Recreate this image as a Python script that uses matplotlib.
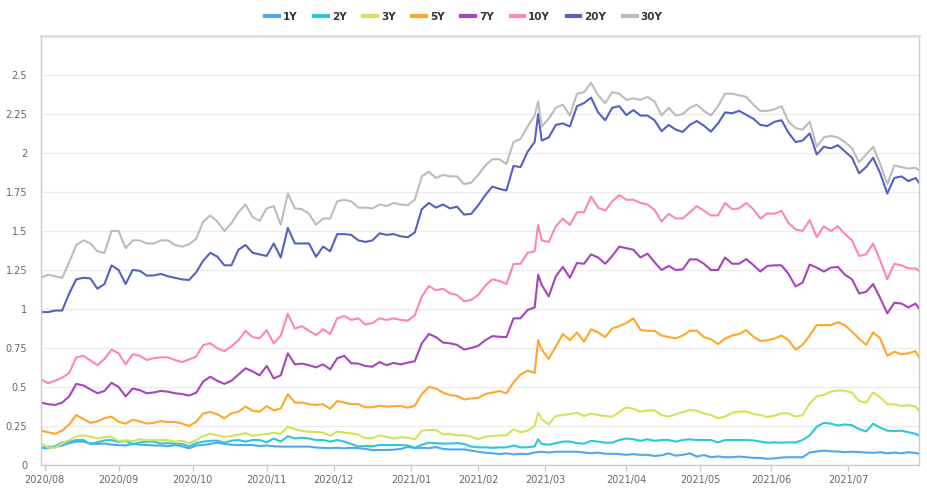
import matplotlib
matplotlib.use("Agg")
import matplotlib.pyplot as plt
import pandas as pd
import numpy as np

# ---- data -------------------------------------------------------------
holidays = ["2020-09-07", "2020-10-12", "2020-11-11", "2020-11-26", "2020-12-25",
            "2021-01-01", "2021-01-18", "2021-02-15", "2021-04-02", "2021-05-31",
            "2021-07-05"]

dates = [
    "2020-07-31", "2020-08-04", "2020-08-06", "2020-08-10", "2020-08-12", "2020-08-14", "2020-08-18", "2020-08-20", "2020-08-24", "2020-08-26",
    "2020-08-28", "2020-09-01", "2020-09-03", "2020-09-08", "2020-09-10", "2020-09-14", "2020-09-16", "2020-09-18", "2020-09-22", "2020-09-24",
    "2020-09-28", "2020-09-30", "2020-10-02", "2020-10-06", "2020-10-08", "2020-10-13", "2020-10-15", "2020-10-19", "2020-10-21", "2020-10-23",
    "2020-10-27", "2020-10-29", "2020-11-02", "2020-11-04", "2020-11-06", "2020-11-10", "2020-11-13", "2020-11-17", "2020-11-19", "2020-11-23",
    "2020-11-25", "2020-11-30", "2020-12-02", "2020-12-04", "2020-12-08", "2020-12-10", "2020-12-14", "2020-12-16", "2020-12-18", "2020-12-22",
    "2020-12-24", "2020-12-29", "2020-12-31", "2021-01-05", "2021-01-07", "2021-01-11", "2021-01-13", "2021-01-15", "2021-01-20", "2021-01-22",
    "2021-01-26", "2021-01-28", "2021-02-01", "2021-02-03", "2021-02-05", "2021-02-09", "2021-02-11", "2021-02-16", "2021-02-18", "2021-02-22",
    "2021-02-24", "2021-02-25", "2021-02-26", "2021-03-02", "2021-03-04", "2021-03-08", "2021-03-10", "2021-03-12", "2021-03-16", "2021-03-18",
    "2021-03-22", "2021-03-24", "2021-03-26", "2021-03-30", "2021-04-01", "2021-04-06", "2021-04-08", "2021-04-12", "2021-04-14", "2021-04-16",
    "2021-04-20", "2021-04-22", "2021-04-26", "2021-04-28", "2021-04-30", "2021-05-04", "2021-05-06", "2021-05-10", "2021-05-12", "2021-05-14",
    "2021-05-18", "2021-05-20", "2021-05-24", "2021-05-26", "2021-05-28", "2021-06-02", "2021-06-04", "2021-06-08", "2021-06-10", "2021-06-14",
    "2021-06-16", "2021-06-18", "2021-06-22", "2021-06-24", "2021-06-28", "2021-06-30", "2021-07-02", "2021-07-07", "2021-07-09", "2021-07-13",
    "2021-07-15", "2021-07-19", "2021-07-21", "2021-07-23", "2021-07-27", "2021-07-29", "2021-07-30"]

y30 = [1.20, 1.22, 1.21, 1.20, 1.30, 1.41, 1.44, 1.42, 1.37, 1.36,
       1.50, 1.50, 1.39, 1.44, 1.44, 1.42, 1.42, 1.44, 1.44, 1.41,
       1.40, 1.415, 1.45, 1.56, 1.60, 1.56, 1.50, 1.55, 1.62, 1.67,
       1.59, 1.565, 1.645, 1.66, 1.54, 1.74, 1.645, 1.64, 1.61, 1.54,
       1.58, 1.58, 1.69, 1.70, 1.69, 1.65, 1.65, 1.645, 1.67, 1.66,
       1.68, 1.67, 1.665, 1.70, 1.85, 1.88, 1.84, 1.86, 1.85, 1.85,
       1.80, 1.81, 1.86, 1.92, 1.96, 1.96, 1.93, 2.07, 2.09, 2.17,
       2.24, 2.33, 2.17, 2.22, 2.29, 2.31, 2.24, 2.38, 2.39, 2.45,
       2.37, 2.32, 2.39, 2.38, 2.34, 2.35, 2.34, 2.36, 2.33, 2.24,
       2.29, 2.24, 2.25, 2.29, 2.31, 2.27, 2.24, 2.30, 2.38, 2.38,
       2.37, 2.36, 2.31, 2.27, 2.27, 2.28, 2.30, 2.20, 2.16, 2.15,
       2.20, 2.04, 2.10, 2.11, 2.10, 2.07, 2.03, 1.94, 1.99, 2.04,
       1.93, 1.80, 1.92, 1.91, 1.90, 1.905, 1.89]
y20 = [0.98, 0.98, 0.99, 0.99, 1.10, 1.19, 1.20, 1.196, 1.13, 1.16,
       1.28, 1.25, 1.16, 1.25, 1.245, 1.214, 1.215, 1.225, 1.21, 1.20,
       1.19, 1.186, 1.235, 1.31, 1.36, 1.336, 1.28, 1.28, 1.38, 1.41,
       1.36, 1.35, 1.34, 1.42, 1.33, 1.52, 1.42, 1.42, 1.42, 1.335,
       1.40, 1.37, 1.48, 1.48, 1.475, 1.44, 1.43, 1.44, 1.485, 1.475,
       1.48, 1.466, 1.46, 1.49, 1.64, 1.68, 1.65, 1.67, 1.645, 1.656,
       1.605, 1.61, 1.665, 1.73, 1.785, 1.77, 1.76, 1.917, 1.91, 2.008,
       2.07, 2.25, 2.08, 2.10, 2.18, 2.19, 2.17, 2.30, 2.32, 2.355,
       2.26, 2.21, 2.29, 2.30, 2.243, 2.275, 2.24, 2.24, 2.21, 2.14,
       2.18, 2.15, 2.135, 2.18, 2.205, 2.175, 2.137, 2.19, 2.26, 2.255,
       2.27, 2.245, 2.22, 2.18, 2.173, 2.20, 2.21, 2.13, 2.07, 2.08,
       2.126, 1.99, 2.04, 2.03, 2.05, 2.01, 1.97, 1.87, 1.91, 1.97,
       1.87, 1.74, 1.84, 1.85, 1.82, 1.84, 1.81]
y10 = [0.55, 0.525, 0.54, 0.56, 0.59, 0.69, 0.70, 0.67, 0.64, 0.68,
       0.74, 0.716, 0.645, 0.71, 0.70, 0.673, 0.685, 0.69, 0.69, 0.673,
       0.66, 0.677, 0.695, 0.769, 0.78, 0.748, 0.73, 0.76, 0.80, 0.86,
       0.82, 0.812, 0.865, 0.78, 0.83, 0.97, 0.875, 0.89, 0.86, 0.833,
       0.87, 0.84, 0.94, 0.955, 0.93, 0.94, 0.90, 0.91, 0.94, 0.93,
       0.94, 0.93, 0.925, 0.96, 1.08, 1.147, 1.12, 1.13, 1.10, 1.09,
       1.05, 1.058, 1.09, 1.15, 1.19, 1.18, 1.16, 1.288, 1.29, 1.36,
       1.37, 1.54, 1.44, 1.43, 1.53, 1.58, 1.538, 1.62, 1.62, 1.72,
       1.65, 1.63, 1.69, 1.73, 1.70, 1.70, 1.68, 1.67, 1.635, 1.56,
       1.61, 1.58, 1.581, 1.62, 1.66, 1.63, 1.60, 1.60, 1.68, 1.64,
       1.645, 1.68, 1.64, 1.58, 1.613, 1.61, 1.63, 1.55, 1.51, 1.50,
       1.57, 1.46, 1.53, 1.50, 1.53, 1.48, 1.44, 1.34, 1.35, 1.42,
       1.31, 1.19, 1.29, 1.28, 1.26, 1.26, 1.245]
y7 = [0.40, 0.39, 0.385, 0.40, 0.44, 0.52, 0.51, 0.485, 0.46, 0.475,
      0.527, 0.50, 0.44, 0.49, 0.48, 0.46, 0.465, 0.475, 0.47, 0.46,
      0.455, 0.445, 0.463, 0.535, 0.566, 0.54, 0.52, 0.54, 0.58, 0.62,
      0.60, 0.575, 0.635, 0.555, 0.575, 0.716, 0.645, 0.65, 0.64, 0.626,
      0.645, 0.613, 0.684, 0.70, 0.652, 0.65, 0.635, 0.63, 0.66, 0.64,
      0.654, 0.645, 0.656, 0.665, 0.78, 0.84, 0.82, 0.785, 0.78, 0.77,
      0.74, 0.75, 0.764, 0.80, 0.826, 0.822, 0.82, 0.94, 0.94, 0.994,
      1.01, 1.22, 1.154, 1.08, 1.21, 1.27, 1.20, 1.295, 1.29, 1.35,
      1.33, 1.29, 1.34, 1.40, 1.39, 1.38, 1.33, 1.355, 1.30, 1.25,
      1.276, 1.25, 1.254, 1.318, 1.318, 1.29, 1.25, 1.25, 1.33, 1.29,
      1.29, 1.32, 1.282, 1.24, 1.276, 1.28, 1.28, 1.225, 1.145, 1.17,
      1.285, 1.265, 1.24, 1.265, 1.27, 1.22, 1.19, 1.10, 1.11, 1.16,
      1.07, 0.972, 1.04, 1.035, 1.01, 1.035, 1.004]
y5 = [0.22, 0.21, 0.20, 0.22, 0.26, 0.32, 0.295, 0.27, 0.28, 0.30,
      0.31, 0.277, 0.265, 0.29, 0.28, 0.265, 0.27, 0.282, 0.275, 0.276,
      0.265, 0.25, 0.277, 0.33, 0.34, 0.325, 0.30, 0.331, 0.342, 0.375,
      0.348, 0.342, 0.378, 0.35, 0.363, 0.455, 0.40, 0.40, 0.39, 0.385,
      0.39, 0.36, 0.41, 0.40, 0.39, 0.39, 0.37, 0.37, 0.38, 0.374,
      0.377, 0.378, 0.367, 0.38, 0.455, 0.50, 0.49, 0.464, 0.448, 0.442,
      0.42, 0.427, 0.43, 0.455, 0.464, 0.474, 0.46, 0.53, 0.58, 0.605,
      0.59, 0.80, 0.74, 0.68, 0.76, 0.84, 0.80, 0.85, 0.79, 0.87,
      0.85, 0.82, 0.876, 0.89, 0.91, 0.94, 0.866, 0.86, 0.86, 0.83,
      0.82, 0.812, 0.83, 0.86, 0.861, 0.82, 0.806, 0.775, 0.81, 0.83,
      0.84, 0.865, 0.823, 0.795, 0.80, 0.81, 0.83, 0.80, 0.74, 0.77,
      0.83, 0.897, 0.897, 0.897, 0.915, 0.895, 0.855, 0.81, 0.77, 0.85,
      0.812, 0.70, 0.726, 0.71, 0.716, 0.73, 0.69]
y3 = [0.14, 0.113, 0.11, 0.14, 0.16, 0.182, 0.19, 0.182, 0.17, 0.178,
      0.18, 0.154, 0.158, 0.154, 0.165, 0.16, 0.16, 0.16, 0.16, 0.15,
      0.155, 0.14, 0.16, 0.186, 0.20, 0.19, 0.18, 0.185, 0.195, 0.205,
      0.186, 0.195, 0.198, 0.207, 0.20, 0.245, 0.23, 0.218, 0.213, 0.213,
      0.208, 0.186, 0.215, 0.207, 0.203, 0.196, 0.172, 0.171, 0.19, 0.18,
      0.17, 0.178, 0.175, 0.165, 0.22, 0.224, 0.225, 0.196, 0.20, 0.19,
      0.19, 0.182, 0.165, 0.182, 0.185, 0.19, 0.19, 0.229, 0.21, 0.22,
      0.25, 0.335, 0.293, 0.26, 0.314, 0.32, 0.327, 0.335, 0.314, 0.33,
      0.32, 0.314, 0.31, 0.34, 0.37, 0.36, 0.342, 0.35, 0.35, 0.32,
      0.31, 0.325, 0.34, 0.353, 0.348, 0.33, 0.32, 0.30, 0.31, 0.335,
      0.342, 0.343, 0.327, 0.32, 0.308, 0.316, 0.331, 0.331, 0.31, 0.32,
      0.395, 0.44, 0.449, 0.47, 0.478, 0.475, 0.464, 0.41, 0.40, 0.465,
      0.434, 0.39, 0.389, 0.378, 0.383, 0.375, 0.35]
y2 = [0.11, 0.107, 0.12, 0.145, 0.15, 0.16, 0.16, 0.134, 0.145, 0.158,
      0.16, 0.148, 0.155, 0.132, 0.145, 0.15, 0.15, 0.137, 0.14, 0.137,
      0.135, 0.12, 0.14, 0.15, 0.155, 0.156, 0.143, 0.156, 0.16, 0.15,
      0.16, 0.16, 0.145, 0.17, 0.15, 0.185, 0.17, 0.175, 0.17, 0.16,
      0.16, 0.15, 0.16, 0.15, 0.135, 0.118, 0.122, 0.12, 0.128, 0.128,
      0.128, 0.128, 0.125, 0.11, 0.13, 0.143, 0.14, 0.137, 0.138, 0.14,
      0.135, 0.118, 0.113, 0.113, 0.11, 0.113, 0.113, 0.125, 0.113, 0.113,
      0.12, 0.165, 0.135, 0.13, 0.14, 0.15, 0.15, 0.14, 0.137, 0.155,
      0.15, 0.143, 0.143, 0.16, 0.17, 0.165, 0.155, 0.165, 0.155, 0.16,
      0.16, 0.15, 0.16, 0.165, 0.16, 0.16, 0.16, 0.145, 0.16, 0.16,
      0.16, 0.16, 0.158, 0.15, 0.143, 0.145, 0.143, 0.145, 0.145, 0.16,
      0.19, 0.245, 0.27, 0.265, 0.253, 0.26, 0.255, 0.23, 0.215, 0.265,
      0.24, 0.22, 0.218, 0.22, 0.21, 0.20, 0.19]
y1 = [0.11, 0.118, 0.115, 0.125, 0.14, 0.15, 0.15, 0.138, 0.135, 0.138,
      0.13, 0.128, 0.125, 0.137, 0.13, 0.128, 0.125, 0.125, 0.12, 0.128,
      0.12, 0.107, 0.125, 0.128, 0.135, 0.143, 0.135, 0.13, 0.128, 0.128,
      0.128, 0.122, 0.125, 0.12, 0.118, 0.118, 0.118, 0.118, 0.118, 0.112,
      0.11, 0.108, 0.11, 0.107, 0.11, 0.108, 0.103, 0.096, 0.096, 0.096,
      0.098, 0.103, 0.115, 0.11, 0.11, 0.108, 0.115, 0.103, 0.10, 0.10,
      0.10, 0.092, 0.085, 0.079, 0.075, 0.07, 0.075, 0.068, 0.072, 0.07,
      0.08, 0.083, 0.085, 0.08, 0.085, 0.085, 0.085, 0.085, 0.08, 0.075,
      0.08, 0.072, 0.072, 0.07, 0.065, 0.07, 0.065, 0.065, 0.058, 0.062,
      0.075, 0.06, 0.065, 0.075, 0.054, 0.064, 0.05, 0.055, 0.05, 0.05,
      0.054, 0.05, 0.046, 0.045, 0.04, 0.042, 0.048, 0.05, 0.05, 0.05,
      0.08, 0.087, 0.092, 0.088, 0.086, 0.082, 0.085, 0.083, 0.08, 0.078,
      0.082, 0.075, 0.08, 0.075, 0.082, 0.077, 0.073]

series_names = ["1Y", "2Y", "3Y", "5Y", "7Y", "10Y", "20Y", "30Y"]
series_values = [y1, y2, y3, y5, y7, y10, y20, y30]
colors = ["#4fa8f2", "#2fc6dc", "#d2e35a", "#ffa62b", "#a744bd", "#ff86b4", "#5461c2", "#bcbcbc"]

for v in series_values:
    assert len(v) == len(dates), (len(v), len(dates))

# ---- trading-day category axis ---------------------------------------
days = pd.bdate_range("2020-07-31", "2021-07-30")
days = days[~days.isin(pd.to_datetime(holidays))]
pos = days.get_indexer(pd.to_datetime(dates))

month_key = days.to_period("M")
first_idx = [i for i in range(len(days)) if i > 0 and month_key[i] != month_key[i - 1]]
tick_labels = [days[i].strftime("%Y/%m") for i in first_idx]

# ---- figure ------------------------------------------------------------
fig = plt.figure(figsize=(9.28, 4.91), dpi=100)
ax = fig.add_axes([41 / 928, 1 - 465 / 491, (919 - 41) / 928, (465 - 36) / 491])

for name, vals, c in zip(series_names, series_values, colors):
    ax.plot(pos, vals, color=c, lw=1.5, label=name, solid_joinstyle="round")

ax.set_xlim(0, len(days) - 1)
ax.set_ylim(0, 2.75)
yt = np.arange(0, 2.51, 0.25)
ax.set_yticks(yt)
ax.set_yticklabels([f"{v:g}" for v in yt])
ax.yaxis.grid(True, color="#ececec", lw=1)
ax.set_axisbelow(True)

ax.set_xticks(first_idx)
ax.set_xticklabels(tick_labels)

ax.tick_params(axis="y", length=0, pad=10, labelsize=7, labelcolor="#666666")
ax.tick_params(axis="x", length=4, width=1, color="#c8c8d8", pad=3, labelsize=7, labelcolor="#666666")

for s in ["left", "bottom"]:
    ax.spines[s].set_color("#c8c8d8")
    ax.spines[s].set_linewidth(1)
ax.spines["top"].set_color("#dddddd")
ax.spines["top"].set_linewidth(2)
ax.spines["right"].set_color("#cccccc")
ax.spines["right"].set_linewidth(1)

leg = fig.legend(loc="upper center", bbox_to_anchor=(0.5, 0.995), ncol=8, frameon=False,
                 fontsize=7.5, handlelength=1.3, handletextpad=0.4, columnspacing=1.6)
for t in leg.get_texts():
    t.set_color("#333333")
    t.set_fontweight("bold")
for h in leg.get_lines():
    h.set_linewidth(3)

fig.savefig("out.png", dpi=100)
